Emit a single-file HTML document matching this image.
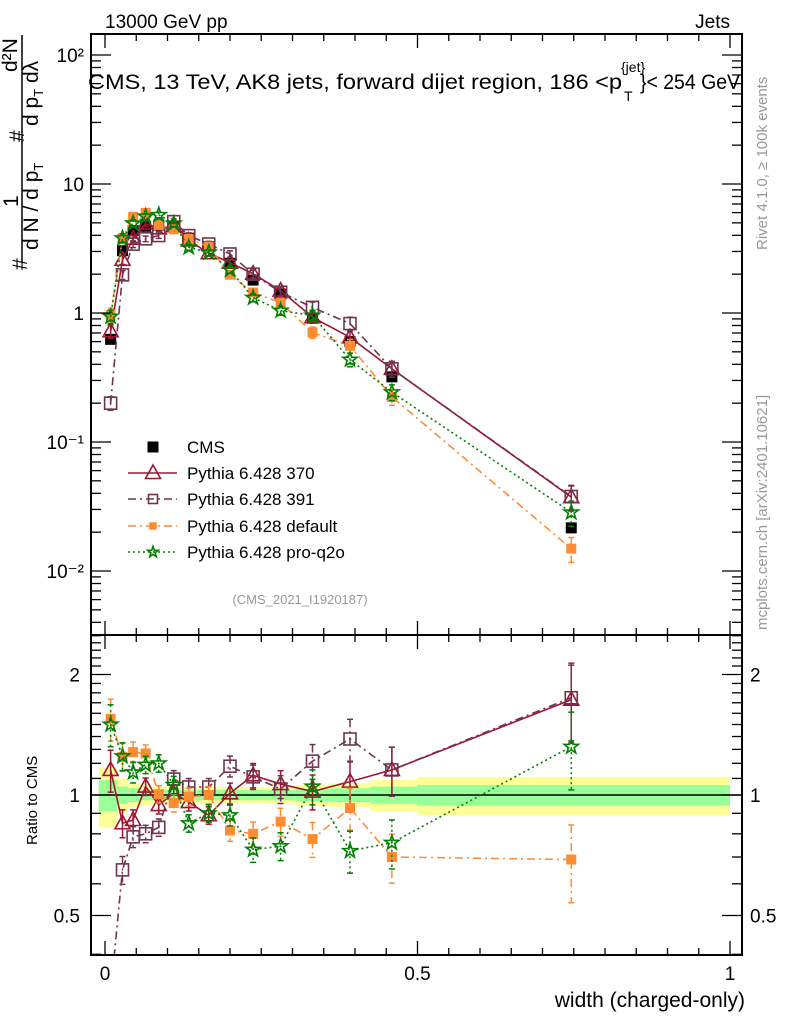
<!DOCTYPE html>
<html><head><meta charset="utf-8">
<style>
body{margin:0;background:#fff;}
svg{display:block;font-family:"Liberation Sans",sans-serif;}
</style></head>
<body>
<svg id="c" width="786" height="1024" viewBox="0 0 786 1024" xmlns="http://www.w3.org/2000/svg">
<g id="bands"></g>
<g id="marks"></g>
<g id="axes"></g>
<text x="105" y="28" font-size="19">13000 GeV pp</text>
<text x="730" y="28" font-size="19" text-anchor="end">Jets</text>
<g>
<text x="88" y="89" font-size="21" textLength="534" lengthAdjust="spacingAndGlyphs">CMS, 13 TeV, AK8 jets, forward dijet region, 186 &lt;p</text>
<text x="621" y="72" font-size="14">{jet}</text>
<text x="624" y="101" font-size="14">T</text>
<text x="640" y="89" font-size="21" textLength="100" lengthAdjust="spacingAndGlyphs">}&lt; 254 GeV</text>
</g>
<text x="300" y="604" font-size="13" fill="#999" text-anchor="middle">(CMS_2021_I1920187)</text>
<text transform="translate(767,250) rotate(-90)" font-size="15" fill="#999">Rivet 4.1.0, ≥ 100k events</text>
<text transform="translate(767,630) rotate(-90)" font-size="15" fill="#999">mcplots.cern.ch [arXiv:2401.10621]</text>
<text x="745" y="1007" font-size="21" text-anchor="end">width (charged-only)</text>
<text transform="translate(37,845) rotate(-90)" font-size="15">Ratio to CMS</text>
<g font-size="21">
<line x1="22" y1="35" x2="22" y2="262" stroke="#000" stroke-width="1.5"/>
<text transform="translate(27,270) rotate(-90)">#</text>
<text transform="translate(18,207) rotate(-90)">1</text>
<text transform="translate(38,250) rotate(-90)">d N / d p<tspan font-size="13" dy="5">T</tspan></text>
<text transform="translate(24,142) rotate(-90)">#</text>
<text transform="translate(17,72) rotate(-90)">d²N</text>
<text transform="translate(38,126) rotate(-90)">d p<tspan font-size="13" dy="5">T</tspan><tspan dy="-5"> dλ</tspan></text>
</g>
<g id="legend"></g>
</svg>
<script>
const xCenters=[0.009,0.028,0.045,0.065,0.086,0.110,0.134,0.166,0.200,0.237,0.281,0.332,0.392,0.459,0.746];
const binEdges=[-0.01,0.019,0.037,0.055,0.075,0.098,0.122,0.147,0.185,0.218,0.259,0.305,0.36,0.425,0.5,1.0];
const cmsVals=[0.625,3.04,4.35,4.7,4.8,4.66,3.8,3.27,2.43,1.8,1.40,0.91,0.60,0.32,0.0216];
const cmsErr=[0.06,0.04,0.03,0.03,0.03,0.03,0.03,0.03,0.03,0.03,0.03,0.03,0.04,0.05,0.08];
const ratio370=[1.155,0.85,0.866,1.05,0.944,1.01,0.96,0.89,1.01,1.12,1.065,1.02,1.08,1.155,1.73];
const ratio391=[0.32,0.65,0.786,0.80,0.83,1.096,1.047,1.047,1.18,1.11,1.035,1.215,1.38,1.155,1.75];
const ratioDef=[1.55,1.246,1.28,1.27,1.005,0.955,0.99,1.0,0.815,0.80,0.858,0.776,0.928,0.70,0.69];
const ratioQ2o=[1.50,1.25,1.14,1.19,1.2,1.06,0.85,0.90,0.89,0.73,0.745,1.05,0.725,0.76,1.32];
const modelErr=[0.12,0.08,0.06,0.05,0.05,0.05,0.05,0.05,0.06,0.07,0.08,0.1,0.12,0.14,0.22];
const bandYellow=[0.17,0.10,0.07,0.06,0.05,0.05,0.05,0.05,0.045,0.045,0.05,0.06,0.07,0.09,0.11];
const bandGreen=[0.09,0.05,0.04,0.03,0.03,0.03,0.03,0.03,0.03,0.03,0.03,0.035,0.04,0.05,0.06];
const yTickLabels=["10⁻²","10⁻¹","1","10","10²"];
const rTickVals=[0.5,1,2];

const NS="http://www.w3.org/2000/svg";
const L=91,R=742,T=34,MB=635,RB=955;
const X=v=>105+625*v;
const Y=v=>313-129*Math.log10(v);
const RY=v=>795-120.5*Math.log2(v);
function el(tag,attrs,parent){const e=document.createElementNS(NS,tag);for(const k in attrs)e.setAttribute(k,attrs[k]);parent.appendChild(e);return e;}
const bands=document.getElementById('bands'),marks=document.getElementById('marks'),axes=document.getElementById('axes'),leg=document.getElementById('legend');

for(let i=0;i<bandYellow.length;i++){
  const x0=Math.max(L,X(binEdges[i])),x1=X(binEdges[i+1]);
  const yb=el('rect',{x:x0,width:x1-x0,y:RY(1+bandYellow[i]),height:RY(1-bandYellow[i])-RY(1+bandYellow[i]),fill:'#ffff99'},bands);
  
  
  const gb=el('rect',{x:x0,width:x1-x0,y:RY(1+bandGreen[i]),height:RY(1-bandGreen[i])-RY(1+bandGreen[i]),fill:'#99ff99'},bands);
  
  
}
el('line',{x1:L,x2:R,y1:RY(1),y2:RY(1),stroke:'#000','stroke-width':1.5},bands);

const defs=el('defs',{},document.getElementById('c'));
const c1=el('clipPath',{id:'cm'},defs);el('rect',{x:L,y:T,width:R-L,height:MB-T},c1);
const c2=el('clipPath',{id:'cr'},defs);el('rect',{x:L,y:MB,width:R-L,height:RB-MB},c2);
const gMain=el('g',{'clip-path':'url(#cm)'},marks);
const gRat=el('g',{'clip-path':'url(#cr)'},marks);

function marker(type,x,y,col,g,s){
  let m;
  if(type==='sq') m=el('rect',{x:x-5.5*s,y:y-5.5*s,width:11*s,height:11*s,fill:'#000'},g);
  else if(type==='osq') m=el('rect',{x:x-6*s,y:y-6*s,width:12*s,height:12*s,fill:'none',stroke:col,'stroke-width':1.6},g);
  else if(type==='fsq') m=el('rect',{x:x-5*s,y:y-5*s,width:10*s,height:10*s,fill:col},g);
  else if(type==='tri') m=el('polygon',{points:`${x},${y-8*s} ${x-7.5*s},${y+5.5*s} ${x+7.5*s},${y+5.5*s}`,fill:'none',stroke:col,'stroke-width':1.6},g);
  else {let p=[];for(let k=0;k<10;k++){const r=(k%2?3:7.5)*s,a=-Math.PI/2+k*Math.PI/5;p.push((x+r*Math.cos(a)).toFixed(1)+','+(y+r*Math.sin(a)).toFixed(1));}
    m=el('polygon',{points:p.join(' '),fill:'none',stroke:col,'stroke-width':1.6},g);}
  
  
}
const series=[
 {name:'Pythia 6.428 370',r:ratio370,col:'#a01530',dash:'',m:'tri'},
 {name:'Pythia 6.428 391',r:ratio391,col:'#6e3550',dash:'8,4,2,4',m:'osq'},
 {name:'Pythia 6.428 default',r:ratioDef,col:'#ff8c33',dash:'8,4,2,4',m:'fsq'},
 {name:'Pythia 6.428 pro-q2o',r:ratioQ2o,col:'#008000',dash:'2,3',m:'star'}
];
function errbar(x,y1,y2,col,dash,g){
  const e=el('line',{x1:x,x2:x,y1:y1,y2:y2,stroke:col,'stroke-width':1.5,'stroke-dasharray':dash},g);
  
  
  el('line',{x1:x-3,x2:x+3,y1:y1,y2:y1,stroke:col,'stroke-width':1.5},g);
  el('line',{x1:x-3,x2:x+3,y1:y2,y2:y2,stroke:col,'stroke-width':1.5},g);
}
cmsVals.forEach((v,i)=>{errbar(X(xCenters[i]),Y(v*(1+cmsErr[i])),Y(v*(1-cmsErr[i])),'#000','',gMain);marker('sq',X(xCenters[i]),Y(v),'#000',gMain,1);});
series.forEach(s=>{
  const vals=s.r.map((r,i)=>r*cmsVals[i]);
  const pm=el('polyline',{points:vals.map((v,i)=>X(xCenters[i])+','+Y(v)).join(' '),fill:'none',stroke:s.col,'stroke-width':1.6,'stroke-dasharray':s.dash},gMain);
  
  
  const pr=el('polyline',{points:s.r.map((v,i)=>X(xCenters[i])+','+RY(v)).join(' '),fill:'none',stroke:s.col,'stroke-width':1.6,'stroke-dasharray':s.dash},gRat);
  
  
  vals.forEach((v,i)=>{const e=modelErr[i],x=X(xCenters[i]);
    errbar(x,Y(v*(1+e)),Y(v*(1-e)),s.col,s.dash,gMain);marker(s.m,x,Y(v),s.col,gMain,1);
    errbar(x,RY(s.r[i]*(1+e)),RY(s.r[i]*(1-e)),s.col,s.dash,gRat);marker(s.m,x,RY(s.r[i]),s.col,gRat,1);});
});

el('rect',{x:L,y:T,width:R-L,height:MB-T,fill:'none',stroke:'#000','stroke-width':2},axes);
el('rect',{x:L,y:MB,width:R-L,height:RB-MB,fill:'none',stroke:'#000','stroke-width':2},axes);
for(let k=0;k<=20;k++){const v=k*0.05,x=X(v),len=(k%10===0)?14:7;
  [[T,1],[MB,1],[MB,-1],[RB,-1]].forEach(([y,d])=>el('line',{x1:x,x2:x,y1:y,y2:y+d*len,stroke:'#000','stroke-width':1.3},axes));}
[["0",0],["0.5",0.5],["1",1]].forEach(([t,v])=>{const tx=el('text',{x:X(v),y:980,'font-size':19,'text-anchor':'middle'},axes);tx.textContent=t;
  
  });
for(let d=-3;d<=2;d++){for(let m=1;m<10;m++){const v=m*Math.pow(10,d),y=Y(v);if(y<T||y>MB)continue;const len=m===1?20:10;
  el('line',{x1:L,x2:L+len,y1:y,y2:y,stroke:'#000','stroke-width':1.3},axes);el('line',{x1:R,x2:R-len,y1:y,y2:y,stroke:'#000','stroke-width':1.3},axes);}}
yTickLabels.forEach((t,i)=>{const tx=el('text',{x:84,y:Y(Math.pow(10,i-2))+7,'font-size':19,'text-anchor':'end'},axes);tx.textContent=t;
  
  });
for(let v=0.4;v<=2.6;v+=0.1){const y=RY(v);if(y<MB||y>RB)continue;const major=[0.5,1,2].some(q=>Math.abs(q-v)<1e-6);const len=major?20:10;
  el('line',{x1:L,x2:L+len,y1:y,y2:y,stroke:'#000','stroke-width':1.3},axes);el('line',{x1:R,x2:R-len,y1:y,y2:y,stroke:'#000','stroke-width':1.3},axes);}
rTickVals.forEach(v=>{[[80,'end'],[750,'start']].forEach(([x,a])=>{const tx=el('text',{x:x,y:RY(v)+7,'font-size':19,'text-anchor':a},axes);tx.textContent=String(v);
  
  });});

const ly=[447,473,499,526,552];
marker('sq',153,ly[0],'#000',leg,1);
let t0=el('text',{x:187,y:ly[0]+6,'font-size':17},leg);t0.textContent='CMS';


series.forEach((s,i)=>{const y=ly[i+1];
  el('line',{x1:128,x2:177,y1:y,y2:y,stroke:s.col,'stroke-width':1.6,'stroke-dasharray':s.dash},leg);
  marker(s.m,153,y,s.col,leg,s.m==='tri'?1:0.75);
  const tx=el('text',{x:187,y:y+6,'font-size':17},leg);tx.textContent=s.name;
  
  });
</script>
</body></html>
